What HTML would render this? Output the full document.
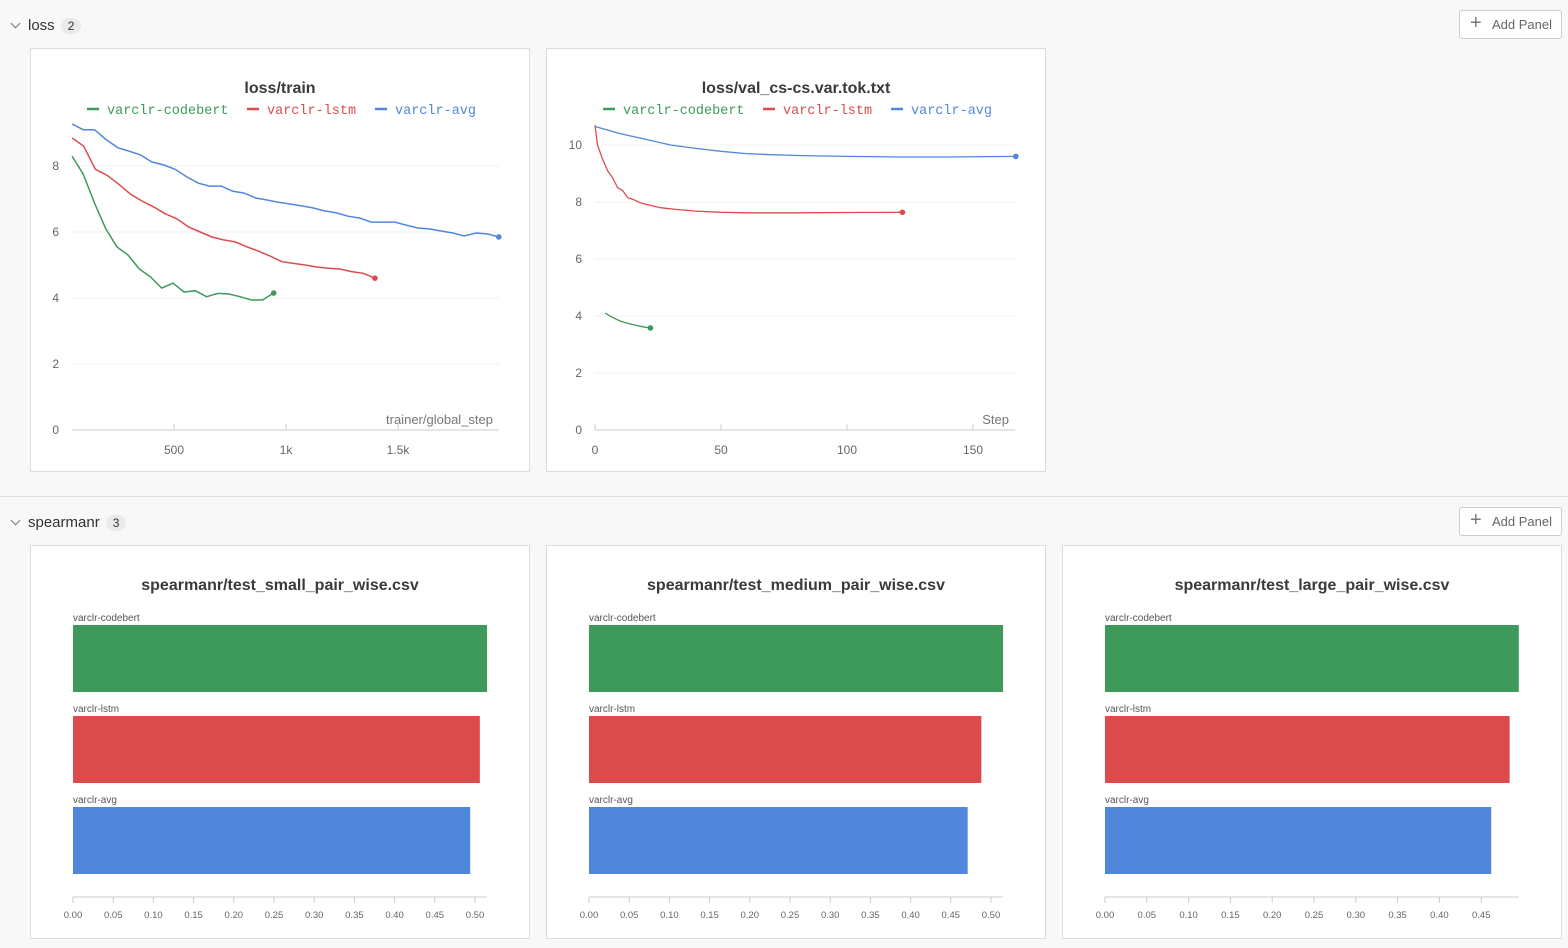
<!DOCTYPE html>
<html><head><meta charset="utf-8"><style>
body{margin:0;width:1568px;height:948px;background:#f8f8f8;font-family:"Liberation Sans",sans-serif;position:relative;overflow:hidden}
.hdr{position:absolute;left:12px;font-size:15px;color:#333}
.hdr .cnt{display:inline-block;background:#eaeaea;border-radius:9px;font-size:12px;padding:1px 7px;margin-left:6px}
.hdr .chev{display:inline-block;width:6px;height:6px;border-right:1.3px solid #777;border-bottom:1.3px solid #777;transform:rotate(45deg);margin-right:9px;position:relative;top:-3px}
.btn{position:absolute;left:1459px;width:103px;height:29px;border:1px solid #ccc;border-radius:3px;background:#fff;font-size:13px;color:#666;box-sizing:border-box;line-height:27px;padding-left:32px}
.btn:before{content:"+";position:absolute;left:10px;top:-1px;font-size:20px;color:#777}
.panel{position:absolute;background:#fff;border:1px solid #dcdcdc;box-sizing:border-box}
.sep{position:absolute;left:0;width:1568px;top:496px;height:1px;background:#ddd}
</style></head><body>
<div class="hdr" style="top:17px"><span class="chev"></span>loss<span class="cnt">2</span></div>
<div class="btn" style="top:10px">Add Panel</div>
<div class="sep"></div>
<div class="hdr" style="top:514px"><span class="chev"></span>spearmanr<span class="cnt">3</span></div>
<div class="btn" style="top:507px">Add Panel</div>
<div class="panel" style="left:30px;top:48px;width:500px;height:424px"></div>
<div class="panel" style="left:546px;top:48px;width:500px;height:424px"></div>
<div class="panel" style="left:30px;top:545px;width:500px;height:394px"></div>
<div class="panel" style="left:546px;top:545px;width:500px;height:394px"></div>
<div class="panel" style="left:1062px;top:545px;width:500px;height:394px"></div>
<svg id="svg" width="1568" height="948" style="position:absolute;left:0;top:0"></svg>
<script>
const runs=["varclr-codebert","varclr-lstm","varclr-avg"];
const colors=["#3d9a5a","#dc4b4b","#5087dc"];
// loss/train
const trainStepsG=[45,95,145,195,245,295,345,395,445,495,545,595,645,695,745,795,845,895,945];
const trainG=[8.3,7.75,6.88,6.1,5.55,5.3,4.88,4.64,4.3,4.45,4.18,4.22,4.04,4.14,4.12,4.04,3.94,3.94,4.15];
const trainStepsR=[45,97,149,201,253,305,357,409,461,513,565,617,669,721,773,825,877,929,981,1033,1085,1137,1189,1241,1293,1345,1397];
const trainR=[8.85,8.6,7.9,7.72,7.45,7.15,6.94,6.76,6.55,6.4,6.15,6.0,5.85,5.76,5.7,5.55,5.42,5.27,5.1,5.05,5.0,4.94,4.9,4.88,4.8,4.75,4.6];
const trainStepsB=[45,95,145,197,250,300,352,402,455,505,557,609,659,711,761,813,865,915,966,1018,1070,1120,1172,1225,1277,1330,1380,1433,1486,1536,1589,1643,1692,1745,1795,1849,1902,1950];
const trainB=[9.27,9.1,9.1,8.8,8.55,8.45,8.33,8.12,8.03,7.9,7.67,7.48,7.39,7.39,7.24,7.18,7.03,6.97,6.9,6.85,6.79,6.73,6.64,6.58,6.48,6.42,6.3,6.3,6.3,6.21,6.12,6.09,6.03,5.97,5.88,5.97,5.94,5.85];
const trainYTicks=[0,2,4,6,8];
const trainXTicks=[500,1000,1500];const trainXLabels=["500","1k","1.5k"];
// loss/val
const valStepsG=[4,7,10,13,16,19,22];
const valG=[4.1,3.95,3.82,3.74,3.68,3.62,3.58];
const valStepsR=[0,1,3,5,7,9,11,13,15,18,22,26,32,40,50,60,80,100,122];
const valR=[10.7,10.0,9.5,9.1,8.85,8.5,8.4,8.15,8.1,7.97,7.88,7.8,7.74,7.68,7.64,7.62,7.62,7.63,7.64];
const valStepsB=[0,10,20,30,40,50,60,70,80,100,120,140,167];
const valB=[10.65,10.4,10.2,10.0,9.88,9.78,9.7,9.66,9.63,9.6,9.58,9.58,9.6];
const valYTicks=[0,2,4,6,8,10];
const valXTicks=[0,50,100,150];
// spearman
const smallVals=[0.515,0.506,0.494];
const mediumVals=[0.515,0.488,0.471];
const largeVals=[0.495,0.484,0.462];
const barTicksA=[0,0.05,0.1,0.15,0.2,0.25,0.3,0.35,0.4,0.45,0.5];
const barTicksB=[0,0.05,0.1,0.15,0.2,0.25,0.3,0.35,0.4,0.45];

const S=document.getElementById('svg');const NS="http://www.w3.org/2000/svg";
function el(t,a,txt){const e=document.createElementNS(NS,t);for(const k in a)e.setAttribute(k,a[k]);if(txt!=null)e.textContent=txt;S.appendChild(e);return e;}
const FS='"Liberation Sans",sans-serif',MONO='"Liberation Mono",monospace';

function lineChart(o){
  const sx=v=>o.x0+(v-o.d0)*o.kx, sy=v=>o.y0-v*o.ky;
  let t=el('text',{x:o.cx,y:93,'text-anchor':'middle','font-size':16,'font-weight':'bold',fill:'#3a3a3a','font-family':FS},o.title);
  
  const lx=[o.cx-193,o.cx-33,o.cx+95];
  runs.forEach((r,i)=>{
    let l=el('line',{x1:lx[i],x2:lx[i]+12,y1:109,y2:109,stroke:colors[i],'stroke-width':2.5});
    
    let tx=el('text',{x:lx[i]+20,y:114,'font-size':13.5,fill:colors[i],'font-family':MONO},r);
    
  });
  o.yt.forEach(v=>{
    if(v>0){let g=el('line',{x1:o.px0,x2:o.px1,y1:sy(v),y2:sy(v),stroke:'#f2f2f2'});}
    let tx=el('text',{x:o.px0-13,y:sy(v)+4,'text-anchor':'end','font-size':12,fill:'#666','font-family':FS},String(v));
    
  });
  let ax=el('line',{x1:o.px0,x2:o.px1,y1:o.y0,y2:o.y0,stroke:'#ccc'});
  o.xt.forEach((v,i)=>{
    let tk=el('line',{x1:sx(v),x2:sx(v),y1:o.y0-6,y2:o.y0,stroke:'#ccc'});
    let tx=el('text',{x:sx(v),y:o.y0+24,'text-anchor':'middle','font-size':12,fill:'#666','font-family':FS},o.xl[i]);
    
  });
  let xt=el('text',{x:o.px1-6,y:o.y0-6,'text-anchor':'end','font-size':13,fill:'#777','font-family':FS},o.xtitle);
  
  o.series.forEach((s,i)=>{
    const pts=s[0].map((st,j)=>sx(st).toFixed(1)+','+sy(s[1][j]).toFixed(1)).join(' ');
    let p=el('polyline',{points:pts,fill:'none',stroke:colors[i],'stroke-width':o.sw});
    
    const n=s[0].length-1;
    let c=el('circle',{cx:sx(s[0][n]),cy:sy(s[1][n]),r:2.8,fill:colors[i]});
    
  });
}
lineChart({title:'loss/train',cx:280,x0:62,d0:0,kx:0.224,y0:430,ky:33,px0:72,px1:499,yt:trainYTicks,xt:trainXTicks,xl:trainXLabels,xtitle:'trainer/global_step',sw:1.5,
  series:[[trainStepsG,trainG],[trainStepsR,trainR],[trainStepsB,trainB]]});
lineChart({title:'loss/val_cs-cs.var.tok.txt',cx:796,x0:595,d0:0,kx:2.52,y0:430,ky:28.5,px0:595,px1:1015,yt:valYTicks,xt:valXTicks,xl:valXTicks.map(String),xtitle:'Step',sw:1.3,
  series:[[valStepsG,valG],[valStepsR,valR],[valStepsB,valB]]});

function barChart(o){
  const sx=v=>o.x0+v*o.k;
  let t=el('text',{x:o.cx,y:590,'text-anchor':'middle','font-size':16,'font-weight':'bold',fill:'#3a3a3a','font-family':FS},o.title);
  
  const tops=[625,716,807];
  o.vals.forEach((v,i)=>{
    let lb=el('text',{x:o.x0,y:tops[i]-4,'font-size':10,fill:'#555','font-family':FS},runs[i]);
    
    let r=el('rect',{x:sx(0),y:tops[i],width:sx(v)-sx(0),height:67,fill:colors[i]});
    
  });
  const mx=Math.max(...o.vals);
  let ax=el('line',{x1:sx(0),x2:sx(mx),y1:897,y2:897,stroke:'#ccc'});
  o.ticks.forEach(v=>{
    let tk=el('line',{x1:sx(v),x2:sx(v),y1:897,y2:903,stroke:'#ccc'});
    let tx=el('text',{x:sx(v),y:918,'text-anchor':'middle','font-size':9.5,fill:'#666','font-family':FS},v.toFixed(2));
    
  });
}
barChart({title:'spearmanr/test_small_pair_wise.csv',cx:280,x0:73,k:804,vals:smallVals,ticks:barTicksA});
barChart({title:'spearmanr/test_medium_pair_wise.csv',cx:796,x0:589,k:804,vals:mediumVals,ticks:barTicksA});
barChart({title:'spearmanr/test_large_pair_wise.csv',cx:1312,x0:1105,k:836,vals:largeVals,ticks:barTicksB});
</script>
</body></html>
